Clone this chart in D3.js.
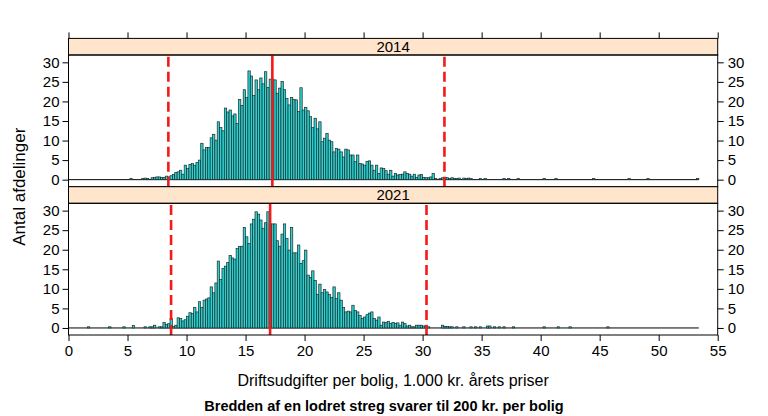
<!DOCTYPE html>
<html>
<head>
<meta charset="utf-8">
<script src="https://cdn.jsdelivr.net/npm/d3@7"></script>
<style>
  body { margin: 0; background: #fff; }
  svg text { font-family: "Liberation Sans", Arial, sans-serif; fill: #000; }
</style>
</head>
<body>
<svg id="chart" width="768" height="416"></svg>
<script>
(function () {
  "use strict";

  // --- data: histogram counts, bin width 0.2 (= 200 kr. per bolig) ---
  const years = ["2014", "2021"];
  const binWidth = 0.2;
  const breaksMax = 53.4;  // common break range 0..53.4 for both panels

  // dense part of each histogram, starting at denseStart (1.000 kr.)
  const denseStart2014 = 7.0;
  const counts2014 = [
    0.5, 0.6, 0.7, 0.7, 0.6, 0.6, 0.9, 0.7, 1.0, 1.3,
    1.8, 2.0, 2.4, 1.4, 3.7, 2.9, 3.9, 4.1, 3.7, 4.4,
    5.0, 9.3, 7.6, 8.2, 8.2, 10.7, 11.6, 10.1, 14.8, 13.3,
    12.5, 18.3, 17.3, 17.8, 16.3, 16.8, 14.4, 20.5, 19.0, 23.0,
    21.0, 27.8, 26.5, 21.5, 25.5, 23.0, 26.0, 24.5, 27.6, 23.6,
    25.7, 25.7, 25.5, 22.1, 23.4, 25.1, 23.0, 20.8, 19.1, 21.0,
    20.5, 20.4, 17.4, 23.5, 17.8, 18.5, 17.6, 16.1, 13.3, 15.7,
    13.0, 14.8, 9.7, 10.6, 11.8, 10.1, 9.7, 7.1, 8.0, 7.8,
    7.1, 5.8, 7.8, 7.6, 6.3, 6.3, 4.6, 6.3, 4.1, 4.0,
    3.7, 4.7, 4.8, 3.7, 2.4, 3.7, 1.6, 3.0, 2.9, 2.3,
    1.4, 2.4, 0.9, 1.6, 1.2, 1.3, 1.4, 2.0, 1.6, 1.4,
    0.9, 1.4, 0.6, 1.2, 1.3, 0.6, 0.5, 0.5, 0.7, 1.6,
    0.3, 0, 0.3, 0.5, 0.6, 0.5, 0.3, 0.5, 0.3, 0.3,
    0.4, 0, 0.4, 0.3, 0.4, 0.3
  ];
  // isolated single bins outside the dense part: [bin start, count]
  const outliers2014 = [
    [5.2, 0.3], [6.2, 0.3], [6.4, 0.4], [6.6, 0.3],
    [34.8, 0.3], [35.2, 0.3], [36.8, 0.3], [37.2, 0.3], [38.0, 0.3],
    [40.2, 0.3], [41.2, 0.3], [44.4, 0.3], [47.4, 0.3], [49.0, 0.3], [53.2, 0.3]
  ];

  const denseStart2021 = 7.2;
  const counts2021 = [
    0.7, 0, 0.3, 0.3, 1.4, 0.9, 1.1, 2.4, 0.4, 0.7,
    2.6, 2.4, 1.8, 2.1, 3.0, 3.9, 3.7, 5.2, 4.1, 6.7,
    5.2, 7.1, 7.4, 7.7, 10.5, 9.0, 11.5, 17.1, 12.4, 15.2,
    15.8, 16.7, 18.5, 17.9, 17.6, 20.3, 20.8, 20.9, 25.7, 23.3,
    21.6, 26.6, 27.8, 29.7, 29.1, 27.6, 25.5, 26.9, 29.7, 26.6,
    26.6, 26.6, 22.3, 20.9, 24.0, 26.6, 22.9, 19.9, 25.7, 19.2,
    19.2, 21.2, 16.5, 17.2, 19.9, 13.5, 12.9, 14.6, 12.1, 8.6,
    11.2, 9.0, 9.8, 9.2, 8.6, 7.8, 10.5, 7.5, 9.0, 7.1,
    5.2, 4.1, 4.3, 4.1, 5.8, 4.5, 4.1, 3.2, 2.4, 2.8,
    3.4, 3.8, 4.1, 2.4, 2.0, 2.8, 0.7, 1.5, 1.4, 1.7,
    1.1, 1.4, 1.1, 1.3, 0.7, 1.5, 1.1, 0.5, 0.7, 0.3,
    0.3, 0.7, 0.7, 0.7, 0.5, 0.7, 0.3, 0, 0, 0,
    0, 0, 0.7, 0.4, 0.4, 0.3, 0.3, 0, 0.3
  ];
  const outliers2021 = [
    [1.6, 0.3], [3.4, 0.3], [4.6, 0.3], [5.4, 0.6], [6.4, 0.3], [6.8, 0.3], [7.0, 0.3],
    [33.4, 0.3], [34.0, 0.3], [34.4, 0.3], [34.8, 0.3], [35.4, 0.5], [35.6, 0.5],
    [36.0, 0.3], [36.4, 0.3], [36.8, 0.3], [37.6, 0.3], [40.2, 0.3], [41.4, 0.3],
    [42.4, 0.3], [45.6, 0.3]
  ];

  // reference lines: median (solid) and lower / upper limits (dashed)
  const medians = [17.27, 17.08];
  const lowerLimits = [8.46, 8.69];
  const upperLimits = [31.85, 30.33];

  const xTicks = d3.range(0, 56, 5);
  const yTicks = [0, 5, 10, 15, 20, 25, 30];

  const xLabel = "Driftsudgifter per bolig, 1.000 kr. årets priser";
  const yLabel = "Antal afdelinger";
  const subLabel = "Bredden af en lodret streg svarer til 200 kr. per bolig";

  // --- build bins per panel ---
  function makeBins(start, dense, outliers) {
    const bins = dense.map(function (c, i) {
      return { x0: +(start + i * binWidth).toFixed(1), n: c };
    });
    outliers.forEach(function (o) { bins.push({ x0: o[0], n: o[1] }); });
    return bins.filter(function (b) { return b.n > 0; });
  }
  const panels = [
    { year: years[0], bins: makeBins(denseStart2014, counts2014, outliers2014),
      med: medians[0], lo: lowerLimits[0], hi: upperLimits[0] },
    { year: years[1], bins: makeBins(denseStart2021, counts2021, outliers2021),
      med: medians[1], lo: lowerLimits[1], hi: upperLimits[1] }
  ];

  // --- layout ---
  const L = 68.5, R = 717.7;
  const stripH = 16.6, panelH = 131.7;
  const top0 = 38.4;
  const BAR_FILL = "#2AD2D2";
  const RED = "#F21A1A";
  const TICK_FONT = 15;

  const svg = d3.select("#chart");
  const x = d3.scaleLinear().domain([0, 55]).range([L, R]);

  panels.forEach(function (p, k) {
    const stripY = top0 + k * (stripH + panelH);
    const py = stripY + stripH;
    const y = d3.scaleLinear().domain([-1.8, 31.87]).range([py + panelH, py]);
    const g = svg.append("g");

    // strip
    g.append("rect")
      .attr("x", L).attr("y", stripY).attr("width", R - L).attr("height", stripH)
      .attr("fill", "#FFE5CC").attr("stroke", "#000").attr("stroke-width", 1);
    g.append("text")
      .attr("x", (L + R) / 2).attr("y", stripY + stripH / 2 + 5.3)
      .attr("text-anchor", "middle").attr("font-size", 15)
      .text(p.year);

    // baseline of zero-height bins
    g.append("line")
      .attr("x1", x(0)).attr("x2", x(breaksMax))
      .attr("y1", y(0)).attr("y2", y(0))
      .attr("stroke", "#000").attr("stroke-width", 1);

    // bars
    g.selectAll("rect.bar").data(p.bins).enter().append("rect")
      .attr("class", "bar")
      .attr("x", function (d) { return x(d.x0); })
      .attr("width", function (d) { return x(d.x0 + binWidth) - x(d.x0); })
      .attr("y", function (d) { return y(d.n); })
      .attr("height", function (d) { return y(0) - y(d.n); })
      .attr("fill", BAR_FILL)
      .attr("stroke", "#1c2b2b").attr("stroke-width", 0.7);

    // red reference lines, drawn upward from the panel bottom
    [p.lo, p.hi].forEach(function (v) {
      g.append("line")
        .attr("x1", x(v)).attr("x2", x(v))
        .attr("y1", py + panelH).attr("y2", py)
        .attr("stroke", RED).attr("stroke-width", 2.6)
        .attr("stroke-dasharray", "10,5");
    });
    g.append("line")
      .attr("x1", x(p.med)).attr("x2", x(p.med))
      .attr("y1", py + panelH).attr("y2", py)
      .attr("stroke", RED).attr("stroke-width", 2.6);

    // panel border
    g.append("rect")
      .attr("x", L).attr("y", py).attr("width", R - L).attr("height", panelH)
      .attr("fill", "none").attr("stroke", "#000").attr("stroke-width", 1);

    // y axes both sides
    const yl = g.append("g").attr("transform", "translate(" + L + ",0)")
      .call(d3.axisLeft(y).tickValues(yTicks).tickSize(6).tickPadding(3));
    const yr = g.append("g").attr("transform", "translate(" + R + ",0)")
      .call(d3.axisRight(y).tickValues(yTicks).tickSize(6).tickPadding(4));
    [yl, yr].forEach(function (a) {
      a.select(".domain").remove();
      a.selectAll("text").attr("font-size", TICK_FONT).attr("fill", "#000")
        .attr("font-family", "Liberation Sans, Arial, sans-serif");
      a.selectAll("line").attr("stroke", "#000");
    });
  });

  // x axes: ticks on top (no labels), labelled at bottom
  const bottomY = top0 + 2 * (stripH + panelH);
  const xt = svg.append("g").attr("transform", "translate(0," + top0 + ")")
    .call(d3.axisTop(x).tickValues(xTicks).tickSize(6).tickFormat(""));
  const xb = svg.append("g").attr("transform", "translate(0," + bottomY + ")")
    .call(d3.axisBottom(x).tickValues(xTicks).tickSize(6).tickPadding(4));
  [xt, xb].forEach(function (a) {
    a.select(".domain").remove();
    a.selectAll("line").attr("stroke", "#000");
    a.selectAll("text").attr("font-size", TICK_FONT).attr("fill", "#000")
      .attr("font-family", "Liberation Sans, Arial, sans-serif");
  });

  // titles
  svg.append("text")
    .attr("x", (L + R) / 2).attr("y", 386)
    .attr("text-anchor", "middle").attr("font-size", 16)
    .text(xLabel);
  svg.append("text")
    .attr("x", 384).attr("y", 411)
    .attr("text-anchor", "middle").attr("font-size", 14.5).attr("font-weight", "bold")
    .text(subLabel);
  svg.append("text")
    .attr("transform", "translate(25," + ((top0 + bottomY) / 2) + ") rotate(-90)")
    .attr("text-anchor", "middle").attr("font-size", 17)
    .text(yLabel);
})();
</script>
</body>
</html>
